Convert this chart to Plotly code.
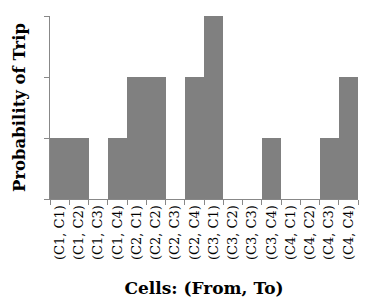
import plotly.graph_objects as go

categories = ["(C1, C1)", "(C1, C2)", "(C1, C3)", "(C1, C4)",
              "(C2, C1)", "(C2, C2)", "(C2, C3)", "(C2, C4)",
              "(C3, C1)", "(C3, C2)", "(C3, C3)", "(C3, C4)",
              "(C4, C1)", "(C4, C2)", "(C4, C3)", "(C4, C4)"]
values = [1, 1, 0, 1, 2, 2, 0, 2, 3, 0, 0, 1, 0, 0, 1, 2]
y_ticks = [0, 1, 2, 3]

fig = go.Figure(go.Bar(x=categories, y=values, marker=dict(color="#808080", line=dict(width=0))))

fig.update_layout(
    width=375, height=307,
    margin=dict(l=42, r=25, t=8, b=116),
    plot_bgcolor="white", paper_bgcolor="white",
    bargap=0, showlegend=False,
    font=dict(family="DejaVu Serif", color="black"),
)
fig.update_xaxes(
    type="category", tickangle=-90, tickfont=dict(size=13, family="DejaVu Serif", color="black"),
    ticks="outside", tickson="boundaries", ticklen=5, tickcolor="#888888",
    showline=True, linecolor="#888888", linewidth=1, showgrid=False,
    title=dict(text="<b>Cells: (From, To)</b>", font=dict(size=17, family="DejaVu Serif"), standoff=23),
    automargin=False,
)
fig.update_yaxes(
    range=[0, 3], tickvals=y_ticks, showticklabels=False,
    ticks="outside", ticklen=5, tickcolor="#888888",
    showline=True, linecolor="#888888", linewidth=1, showgrid=False, zeroline=False,
    title=dict(text="<b>Probability of Trip</b>", font=dict(size=16.5, family="DejaVu Serif"), standoff=14),
    automargin=False,
)

fig.write_html("out.html")
